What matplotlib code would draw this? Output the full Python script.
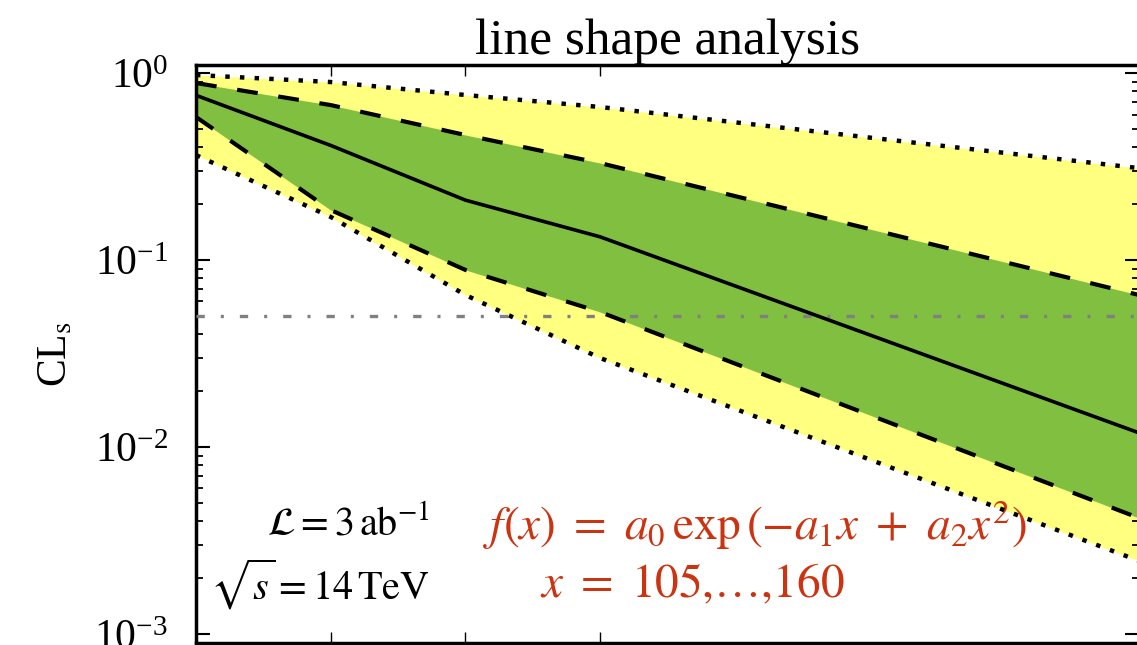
import numpy as np
import matplotlib
matplotlib.use("Agg")
import matplotlib.pyplot as plt
from matplotlib.ticker import LogLocator, NullFormatter, NullLocator, FixedLocator

plt.rcParams['font.family'] = ['Liberation Serif', 'DejaVu Serif']
plt.rcParams['mathtext.fontset'] = 'stix'

# data (x positions in arbitrary units, CLs values)
x_pts = [0, 1, 2, 3, 7]
median = [0.76, 0.41, 0.209, 0.133, 0.0119]
up1 = [0.884, 0.674, 0.466, 0.330, 0.065]
lo1 = [0.582, 0.185, 0.0885, 0.0527, 0.00417]
up2 = [0.976, 0.895, 0.763, 0.658, 0.310]
lo2 = [0.364, 0.170, 0.065, 0.0299, 0.00246]
cl_line = 0.05
x_ticks = [1, 2, 3]

fig = plt.figure(figsize=(11.37, 6.45), dpi=100)
W, H = 1137, 645
ax_l, ax_r, ax_t, ax_b = 196, 1139, 64.7, 642.7
ax = fig.add_axes([ax_l / W, 1 - ax_b / H, (ax_r - ax_l) / W, (ax_b - ax_t) / H])

yellow = '#ffff80'
green = '#80bf40'
ax.fill_between(x_pts, lo2, up2, color=yellow, lw=0, zorder=1)
ax.fill_between(x_pts, lo1, up1, color=green, lw=0, zorder=2)

ax.axhline(cl_line, color='#808080', lw=2.4, linestyle=(0, (2.5, 4.8, 0.9, 4.8)), zorder=3)

dotted = (0, (1.0, 2.3))
dashed = (0, (5.0, 5.0))
ax.plot(x_pts, up2, color='black', lw=3.2, linestyle=dotted, zorder=4)
ax.plot(x_pts, lo2, color='black', lw=3.2, linestyle=dotted, zorder=4)
ax.plot(x_pts, up1, color='black', lw=3.0, linestyle=dashed, zorder=4)
ax.plot(x_pts, lo1, color='black', lw=3.0, linestyle=dashed, zorder=4)
ax.plot(x_pts, median, color='black', lw=2.6, zorder=5)

ax.set_yscale('log')
ax.set_ylim(0.000898, 1.108)
ax.set_xlim(0, 7)

ax.xaxis.set_major_locator(FixedLocator(x_ticks))
ax.xaxis.set_minor_locator(NullLocator())
ax.set_xticklabels([])
ax.yaxis.set_major_locator(LogLocator(base=10, numticks=10))
ax.yaxis.set_minor_locator(LogLocator(base=10, subs=np.arange(2, 10), numticks=20))
ax.yaxis.set_minor_formatter(NullFormatter())

ax.tick_params(axis='y', which='major', direction='in', length=10, width=1.5,
               left=True, right=True, labelsize=30, pad=20)
ax.tick_params(axis='y', which='minor', direction='in', length=5, width=1.3,
               left=True, right=True)
ax.tick_params(axis='x', which='major', direction='in', length=8, width=1.0,
               top=True, bottom=True)
for s in ax.spines.values():
    s.set_linewidth(2.5)

ax.set_title('line shape analysis', fontsize=37, pad=8)
ax.set_ylabel(r'CL$_{\mathrm{s}}$', fontsize=30, labelpad=14)

ax.text(0.248, 0.204, r'$\mathcal{L} = 3\,\mathrm{ab}^{-1}$', transform=ax.transAxes,
        ha='right', va='center', fontsize=29)
ax.text(0.248, 0.100, r'$\sqrt{s} = 14\,\mathrm{TeV}$', transform=ax.transAxes,
        ha='right', va='center', fontsize=29)
red = '#cc3311'
ax.text(0.304, 0.204, r'$f(x)\ =\ a_0\,\exp\left(-a_1x\ +\ a_2x^2\right)$', transform=ax.transAxes,
        ha='left', va='center', fontsize=34, color=red)
ax.text(0.365, 0.100, r'$x\ =\ 105{,}\ldots{,}160$', transform=ax.transAxes,
        ha='left', va='center', fontsize=34, color=red)

fig.savefig('out.png', dpi=100)
